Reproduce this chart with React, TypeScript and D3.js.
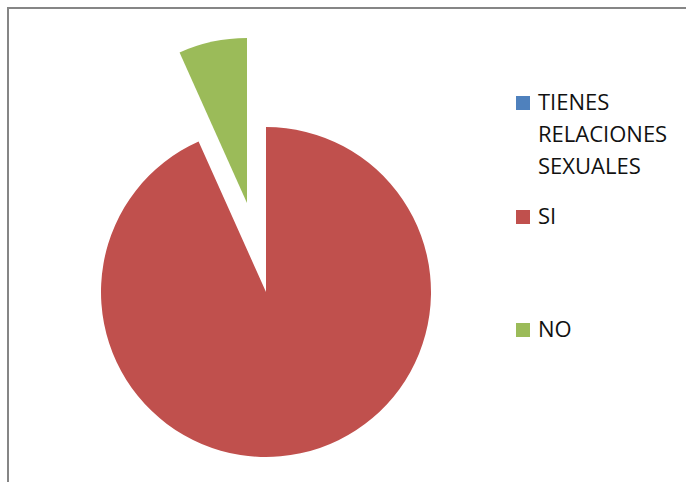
import React, { useEffect, useRef } from 'react';
import * as d3 from 'd3';

const categories = ['TIENES RELACIONES SEXUALES', 'SI', 'NO'];
const values = [0, 93.3, 6.7];
const colors = ['#4F81BD', '#C0504D', '#9BBB59'];
const legendLines = [['TIENES', 'RELACIONES', 'SEXUALES'], ['SI'], ['NO']];

const App: React.FC = () => {
  const svgRef = useRef<SVGSVGElement | null>(null);

  useEffect(() => {
    if (!svgRef.current) return;
    const width = 686;
    const height = 482;
    const svg = d3.select(svgRef.current);
    svg.selectAll('*').remove();

    svg.append('rect')
      .attr('width', width)
      .attr('height', height)
      .attr('fill', '#fff');

    // chart frame (right and bottom run off the picture)
    svg.append('rect')
      .attr('x', 8)
      .attr('y', 8)
      .attr('width', width + 20)
      .attr('height', height + 20)
      .attr('fill', 'none')
      .attr('stroke', '#868686')
      .attr('stroke-width', 2);

    const cx = 266;
    const cy = 292;
    const radius = 165;
    const explode = 91;

    const data = categories.map((c, i) => ({ label: c, value: values[i], color: colors[i] }));

    const pie = d3.pie<{ label: string; value: number; color: string }>()
      .sort(null)
      .value((d) => d.value);

    const arc = d3.arc<d3.PieArcDatum<{ label: string; value: number; color: string }>>()
      .innerRadius(0)
      .outerRadius(radius);

    const g = svg.append('g').attr('transform', `translate(${cx},${cy})`);

    g.selectAll('path')
      .data(pie(data).filter((d) => d.value > 0))
      .enter()
      .append('path')
      .attr('d', arc)
      .attr('fill', (d) => d.data.color)
      .attr('transform', (d) => {
        if (d.data.label !== 'NO') return null;
        const mid = (d.startAngle + d.endAngle) / 2;
        return `translate(${Math.sin(mid) * explode},${-Math.cos(mid) * explode})`;
      });

    // Legend
    const legendX = 516;
    const baselines = [110, 224, 337];
    const lineH = 32;
    const legend = svg.append('g');
    data.forEach((d, i) => {
      legend.append('rect')
        .attr('x', legendX)
        .attr('y', baselines[i] - 14)
        .attr('width', 14)
        .attr('height', 14)
        .attr('fill', d.color);
      const t = legend.append('text')
        .attr('x', legendX + 22)
        .attr('y', baselines[i])
        .attr('font-family', '"Open Sans", sans-serif')
        .attr('font-size', 22)
        .attr('fill', '#111');
      legendLines[i].forEach((line, j) => {
        t.append('tspan')
          .attr('x', legendX + 22)
          .attr('y', baselines[i] + j * lineH)
          .text(line);
      });
    });
  }, []);

  return (
    <svg
      ref={svgRef}
      width={686}
      height={482}
      style={{ position: 'absolute', left: 0, top: 0 }}
    />
  );
};

export default App;
